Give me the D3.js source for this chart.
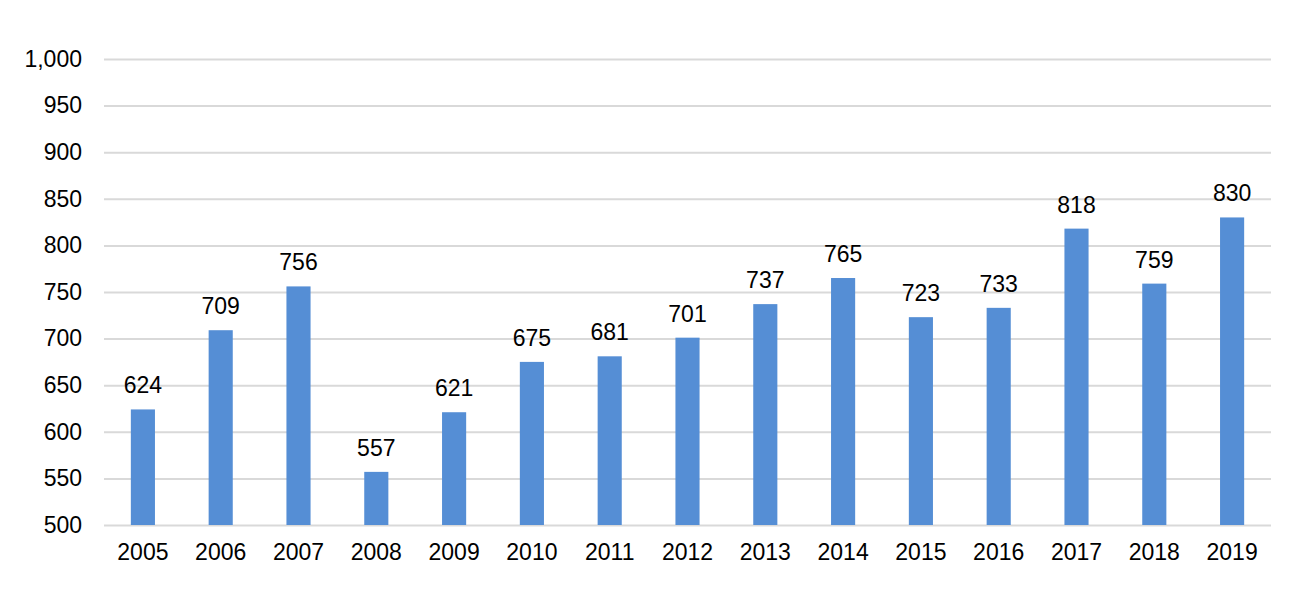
<!DOCTYPE html>
<html><head><meta charset="utf-8">
<script src="https://cdn.jsdelivr.net/npm/d3@7"></script>
<style>html,body{margin:0;padding:0;background:#fff;}svg{display:block;}</style>
</head><body>
<svg id="c" width="1308" height="605"></svg>
<script>
const years = ["2005","2006","2007","2008","2009","2010","2011","2012","2013","2014","2015","2016","2017","2018","2019"];
const values = [624,709,756,557,621,675,681,701,737,765,723,733,818,759,830];
const yTicks = [500,550,600,650,700,750,800,850,900,950,1000];

const svg = d3.select("#c");
const mLeft = 104, mRight = 1271, mTop = 59, mBottom = 525;
const font = "'Liberation Sans', Arial, sans-serif";
const x = d3.scaleBand().domain(years).range([mLeft, mRight]).paddingInner(0.69).paddingOuter(0.345);
const y = d3.scaleLinear().domain([500,1000]).range([mBottom, mTop]);

const gy = svg.append("g").attr("transform", `translate(${mLeft},0)`)
  .call(d3.axisLeft(y).tickValues(yTicks).tickSize(-(mRight-mLeft)).tickPadding(22).tickFormat(d3.format(",")));
gy.select(".domain").remove();
gy.selectAll(".tick line").attr("stroke", "#d9d9d9").attr("stroke-width", 2);
gy.selectAll(".tick text").attr("font-family", font).attr("font-size", 23).attr("fill", "#000");

svg.append("g").selectAll("rect").data(values).join("rect")
  .attr("x", (d,i) => x(years[i]))
  .attr("width", x.bandwidth())
  .attr("y", d => y(d))
  .attr("height", d => mBottom - y(d))
  .attr("fill", "#558ed5");

svg.append("g").selectAll("text").data(values).join("text")
  .attr("x", (d,i) => x(years[i]) + x.bandwidth()/2)
  .attr("y", d => y(d) - 16)
  .attr("text-anchor", "middle")
  .attr("font-family", font).attr("font-size", 23).attr("fill", "#000")
  .text(d => d);

const gx = svg.append("g").attr("transform", `translate(0,${mBottom})`)
  .call(d3.axisBottom(x).tickSize(0).tickPadding(19));
gx.select(".domain").remove();
gx.selectAll(".tick text").attr("font-family", font).attr("font-size", 23).attr("fill", "#000");
</script>
</body></html>
